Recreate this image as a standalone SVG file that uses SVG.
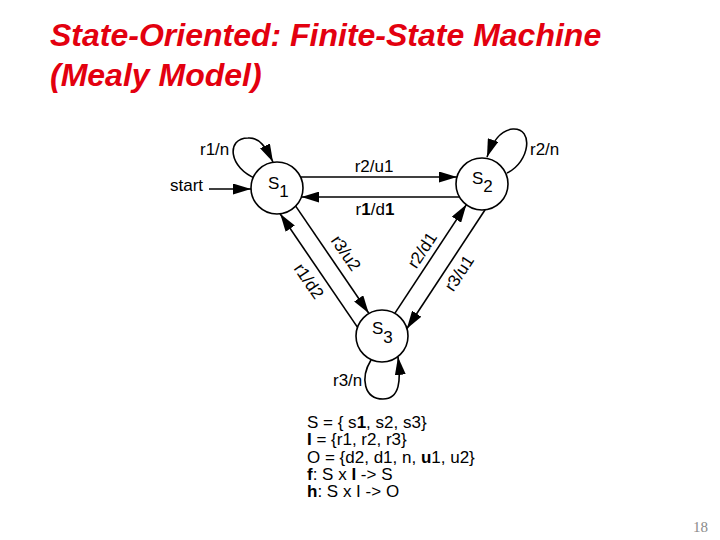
<svg xmlns="http://www.w3.org/2000/svg" width="720" height="540" viewBox="0 0 720 540">
<style>
.title{font-family:"Liberation Sans",Arial,sans-serif;font-size:32px;font-weight:bold;font-style:italic;fill:#E3000F}
.lbl{font-family:"Liberation Sans",Arial,sans-serif;font-size:17px;fill:#000}
.st{fill:#fff;stroke:#000;stroke-width:1.6}
.edge{fill:none;stroke:#000;stroke-width:1.6;marker-end:url(#arr)}
.b{font-weight:bold}
.pg{font-family:"Liberation Serif","Times New Roman",serif;font-size:15px;fill:#8a8a8a}
</style>
<defs>
<marker id="arr" markerUnits="userSpaceOnUse" markerWidth="18" markerHeight="11" refX="18" refY="5.5" orient="auto">
<path d="M0,0 L18,5.5 L0,11 z" fill="#000"/>
</marker>
</defs>
<rect width="720" height="540" fill="#fff"/>
<text class="title" x="50" y="46">State-Oriented: Finite-State Machine</text>
<text class="title" x="50" y="86">(Mealy Model)</text>

<g id="connectors">
<path id="e-start" class="edge" d="M209,189 L251,189"/>
<path id="e-s1-loop" class="edge" d="M257,179 C228,168 226,138 248,138 C260,137 266,148 273,162"/>
<path id="e-s2-loop" class="edge" d="M507,173 C530,162 534,128 513,129 C500,130 492,143 487,157"/>
<path id="e-s3-loop" class="edge" d="M371,360 C360,378 364,399 383,399 C400,399 401,380 398,357"/>
<path id="e-s1-s2" class="edge" d="M300.6,177 L457,177"/>
<path id="e-s2-s1" class="edge" d="M459.5,197 L301.4,197"/>
<path id="e-s1-s3" class="edge" d="M295.7,206.1 L368.8,313.3"/>
<path id="e-s3-s1" class="edge" d="M357.4,327.1 L280.1,213.8"/>
<path id="e-s3-s2" class="edge" d="M394.8,313.4 L466.4,204.6"/>
<path id="e-s2-s3" class="edge" d="M485.1,209.8 L406.8,328.7"/>
<text class="lbl" x="170" y="191">start</text>
<text class="lbl" x="200" y="155">r1/n</text>
<text class="lbl" x="530" y="155">r2/n</text>
<text class="lbl" x="333" y="386">r3/n</text>
<text class="lbl" x="374" y="172" text-anchor="middle">r2/u1</text>
<text class="lbl" x="375" y="215" text-anchor="middle">r<tspan class="b">1</tspan>/d<tspan class="b">1</tspan></text>
<text class="lbl" transform="translate(346,253) rotate(55.7)" x="0" y="6" text-anchor="middle">r3/u2</text>
<text class="lbl" transform="translate(309,281) rotate(55.7)" x="0" y="6" text-anchor="middle">r1/d2</text>
<text class="lbl" transform="translate(422,250) rotate(-56.6)" x="0" y="6" text-anchor="middle">r2/d1</text>
<text class="lbl" transform="translate(459,273) rotate(-56.6)" x="0" y="6" text-anchor="middle">r3/u1</text>
</g>

<g id="s1">
<circle class="st" cx="277" cy="188" r="26"/>
<text class="lbl" x="268" y="189">S<tspan dy="8">1</tspan></text>
</g>
<g id="s2">
<circle class="st" cx="482" cy="184" r="26"/>
<text class="lbl" x="472" y="184">S<tspan dy="8">2</tspan></text>
</g>
<g id="s3">
<circle class="st" cx="382" cy="336" r="26"/>
<text class="lbl" x="372" y="334">S<tspan dy="9">3</tspan></text>
</g>

<g id="definitions">
<text class="lbl">
<tspan x="307" y="428">S = { s<tspan class="b">1</tspan>, s2, s3}</tspan>
<tspan x="307" y="445.2"><tspan class="b">I</tspan> = {r1, r2, r3}</tspan>
<tspan x="307" y="462.5">O = {d2, d1, n, <tspan class="b">u</tspan>1, u2}</tspan>
<tspan x="307" y="479.7"><tspan class="b">f</tspan>: S x <tspan class="b">I</tspan> -&gt; S</tspan>
<tspan x="307" y="497"><tspan class="b">h</tspan>: S x I -&gt; O</tspan>
</text>
</g>
<text class="pg" x="708" y="532" text-anchor="end">18</text>
</svg>
